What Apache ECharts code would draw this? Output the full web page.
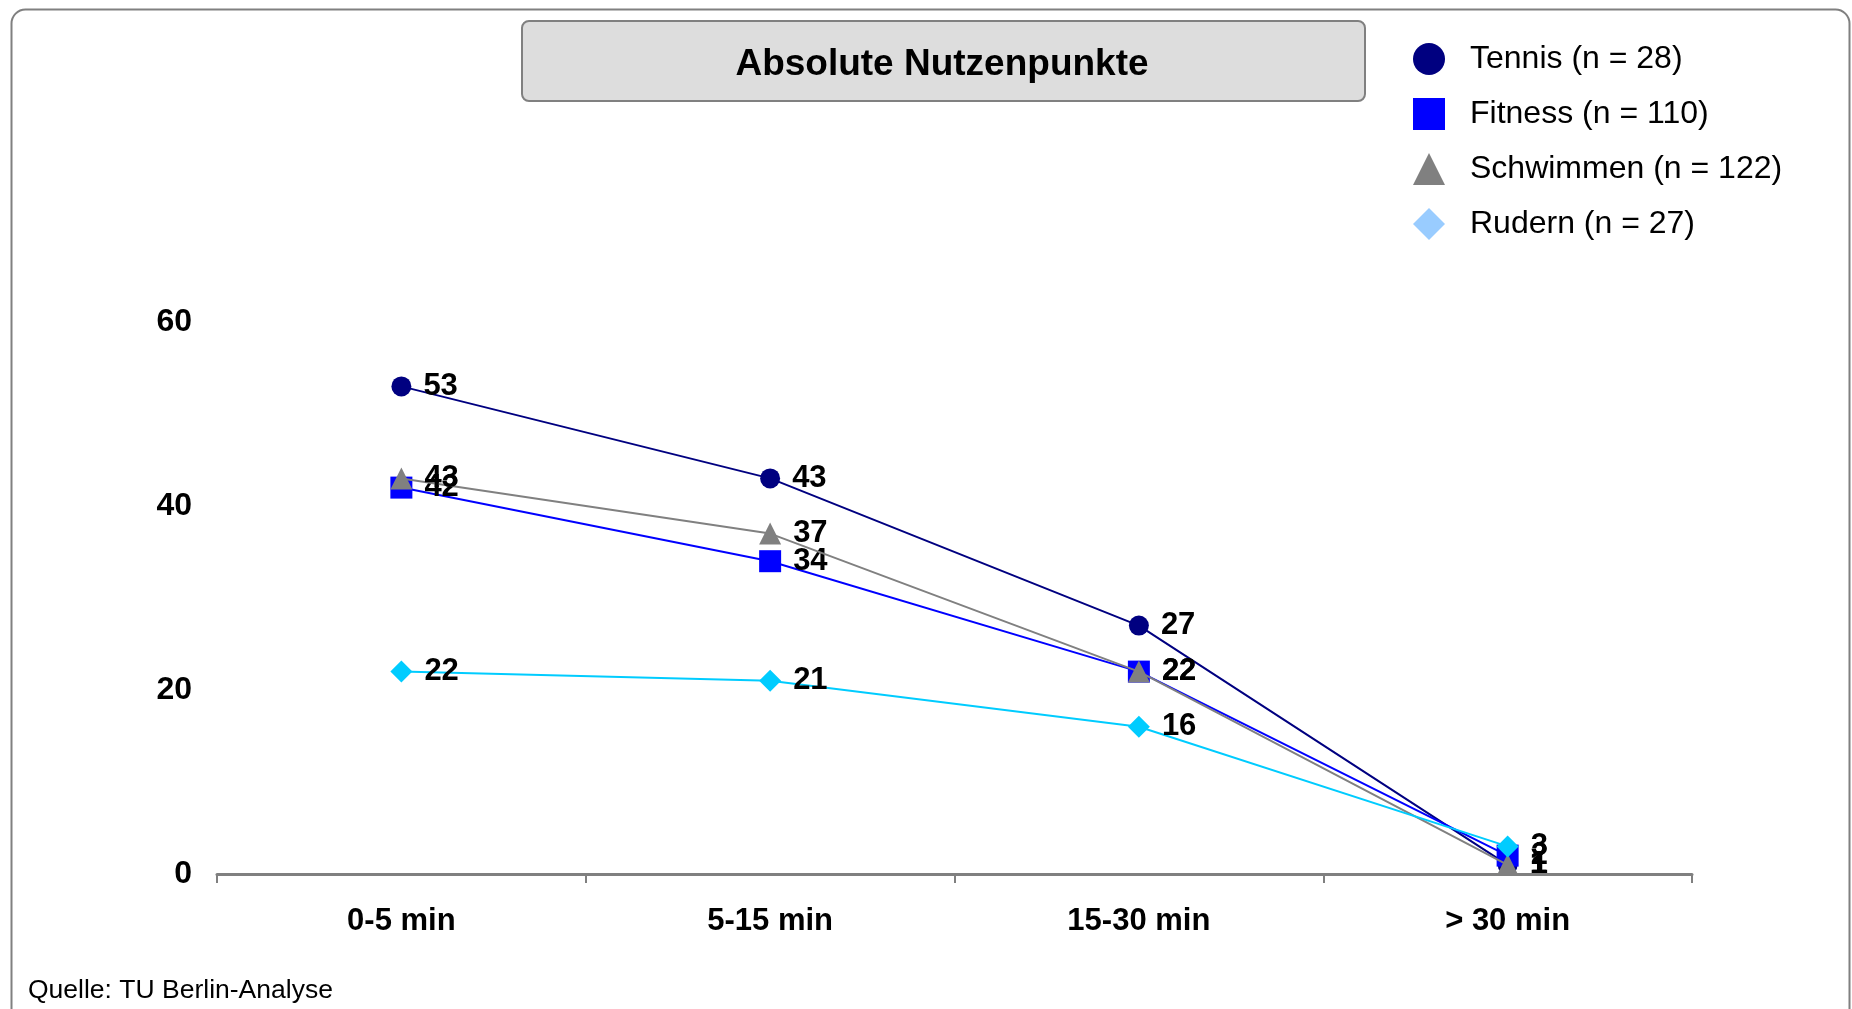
<!DOCTYPE html>
<html>
<head>
<meta charset="utf-8">
<script src="https://cdn.jsdelivr.net/npm/echarts@6/dist/echarts.min.js"></script>
<style>
html,body{margin:0;padding:0;background:#fff;}
#chart{width:1852px;height:1009px;}
</style>
</head>
<body>
<div id="chart"></div>
<script>
const categories = ['0-5 min', '5-15 min', '15-30 min', '> 30 min'];
const seriesNames = ['Tennis (n = 28)', 'Fitness (n = 110)', 'Schwimmen (n = 122)', 'Rudern (n = 27)'];
const tennis = [53, 43, 27, 1];
const fitness = [42, 34, 22, 2];
const schwimmen = [43, 37, 22, 1];
const rudern = [22, 21, 16, 3];
const yTicks = [0, 20, 40, 60];
const titleText = 'Absolute Nutzenpunkte';
const sourceText = 'Quelle: TU Berlin-Analyse';

const FONT = '"Liberation Sans", Arial, Helvetica, sans-serif';
const colors = ['#000080', '#0000FF', '#808080', '#00CCFF'];
const legendColors = ['#000080', '#0000FF', '#808080', '#99CCFF'];
const symbols = ['circle', 'rect', 'triangle', 'diamond'];
const symbolSizes = [20, 22, 22, 22];
const values = [tennis, fitness, schwimmen, rudern];

const chart = echarts.init(document.getElementById('chart'), null, {renderer: 'canvas'});

const series = seriesNames.map((name, i) => ({
  name: name,
  type: 'line',
  data: values[i],
  symbol: symbols[i],
  symbolSize: symbolSizes[i],
  color: colors[i],
  lineStyle: {color: colors[i], width: 2},
  itemStyle: {color: colors[i]},
  label: {
    show: true,
    position: 'right',
    distance: 12,
    color: '#000',
    fontFamily: FONT,
    fontWeight: 'bold',
    fontSize: 31,
    padding: [3, 0, 0, 0]
  },
  emphasis: {disabled: true},
  animation: false,
  z: 2 + i
}));

const option = {
  animation: false,
  backgroundColor: '#fff',
  title: {
    text: titleText,
    left: 942,
    top: 65,
    textAlign: 'center',
    textVerticalAlign: 'middle',
    padding: 0,
    textStyle: {fontFamily: FONT, fontWeight: 'bold', fontSize: 37, color: '#000'},
    z: 10
  },
  legend: {
    orient: 'vertical',
    left: 1408,
    top: 38,
    itemWidth: 32,
    itemHeight: 32,
    itemGap: 23,
    data: seriesNames.map((n, i) => ({name: n, icon: symbols[i], itemStyle: {color: legendColors[i]}})),
    textStyle: {fontFamily: FONT, fontSize: 32, color: '#000', padding: [0, 0, 0, 20]},
    selectedMode: false
  },
  grid: {left: 217, right: 160, top: 322, bottom: 135, containLabel: false},
  xAxis: {
    type: 'category',
    data: categories,
    boundaryGap: true,
    axisLine: {show: true, lineStyle: {color: '#808080', width: 3}},
    axisTick: {show: true, alignWithLabel: false, length: 9, lineStyle: {color: '#808080', width: 2}},
    axisLabel: {fontFamily: FONT, fontWeight: 'bold', fontSize: 31, color: '#000', margin: 32},
    splitLine: {show: false}
  },
  yAxis: {
    type: 'value',
    min: yTicks[0],
    max: yTicks[yTicks.length - 1],
    interval: yTicks[1] - yTicks[0],
    axisLine: {show: false},
    axisTick: {show: false},
    splitLine: {show: false},
    axisLabel: {fontFamily: FONT, fontWeight: 'bold', fontSize: 32, color: '#000', margin: 25, padding: [8, 0, 0, 0]}
  },
  graphic: [
    {
      type: 'rect', left: 9, top: 7, z: -10, silent: true,
      shape: {width: 1838, height: 1040, r: 14},
      style: {fill: 'none', stroke: '#808080', lineWidth: 2}
    },
    {
      type: 'rect', left: 521, top: 20, z: 0, silent: true,
      shape: {width: 843, height: 80, r: 7},
      style: {fill: '#DDDDDD', stroke: '#808080', lineWidth: 2}
    },
    {
      type: 'text', left: 28, top: 977, silent: true,
      style: {text: sourceText, font: '26.5px ' + FONT, fill: '#000'}
    }
  ],
  series: series
};
chart.setOption(option);
</script>
</body>
</html>
